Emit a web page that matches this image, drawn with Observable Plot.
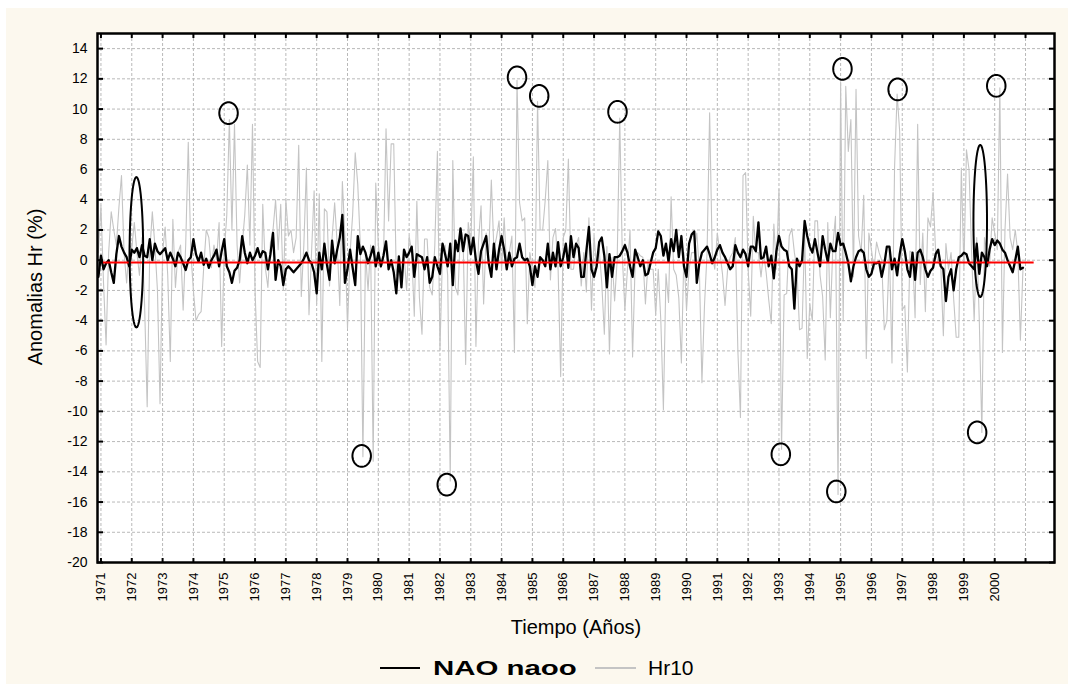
<!DOCTYPE html>
<html>
<head>
<meta charset="utf-8">
<script src="https://cdn.jsdelivr.net/npm/d3@7"></script>
<script src="https://cdn.jsdelivr.net/npm/@observablehq/plot@0.6"></script>
<style>
  html, body { margin: 0; padding: 0; background: #ffffff; width: 1068px; height: 684px; overflow: hidden; }
  #page { position: absolute; left: 6px; top: 8px; right: 0; bottom: 0; background: #fcf8ee; }
  #chart { position: absolute; left: 0; top: 0; width: 1068px; height: 650px; }
  #legend { position: absolute; left: 0; top: 650px; width: 1068px; height: 34px;
            font-family: "Liberation Sans", Arial, sans-serif; color: #000; }
  #legend .sw { position: absolute; height: 2px; top: 17px; }
  #legend .lab { position: absolute; top: 7px; font-size: 21px; line-height: 21px; white-space: nowrap; }
</style>
</head>
<body>
<div id="page"></div>
<div id="chart"></div>
<div id="legend"></div>
<script>
// ---- data ----
const seriesNames = ["NAO naoo", "Hr10"];
const xLabel = "Tiempo (Años)";
const yLabel = "Anomalias Hr (%)";
const firstMonth = 1970 + 11 / 12;   // first monthly value (Dec 1970)
const yearTicks = d3.range(1971, 2002);         // 1971 … 2001
const yTicks = d3.range(-20, 15, 2);            // -20 … 14
const meanLevel = -0.15;                         // red reference line
const meanFrom = 1971.08, meanTo = 2001.28;

// NAO naoo (black), monthly, one row per 12 months
const nao = [
  -1.1, 0.3, -0.6, -0.2, 0.0, -0.8, -1.5, 0.4, 1.6, 0.9, 0.5, 0.2,
  -0.4, 0.7, 0.5, 0.8, 0.2, 1.0, 0.3, 0.2, 1.4, 0.0, 1.1, 0.6,
  0.4, 0.6, 0.8, 0.0, 0.5, 0.1, -0.4, 0.5, 0.2, -0.2, -0.65, 0.0,
  0.2, 1.4, 0.4, -0.1, 0.5, -0.3, 0.1, -0.5, 0.0, 0.3, 0.7, -0.4,
  0.6, 1.4, -0.4, -0.8, -1.5, -0.7, -0.5, 0.0, 1.6, 0.5, -0.2, 0.5,
  0.0, 0.3, 0.8, 0.2, 0.6, 0.5, -0.6, 0.4, 1.8, -1.3, 0.0, -0.4,
  -1.65, -0.6, -0.4, -0.6, -0.8, -0.6, -0.4, -0.2, 0.1, 0.5, 0.0, -0.2,
  -0.8, -2.2, 0.5, -0.6, 1.1, -0.3, -1.3, 1.3, -0.2, 0.7, 1.5, 3.0,
  -1.5, -0.6, 0.7, -0.5, -1.65, 1.6, 0.4, 0.9, 0.5, -0.2, 0.3, 0.9,
  -0.4, 0.5, -0.4, 0.3, 1.25, -0.6, 0.0, -0.8, -2.2, 0.25, -1.8, 0.7,
  0.2, 0.5, 0.9, -1.1, 0.4, 0.3, 0.2, -0.6, 0.2, -1.5, -1.1, 0.2,
  -0.4, -0.9, 1.1, 0.4, -0.4, 1.1, -1.65, 1.3, 0.6, 2.1, 0.6, 1.7,
  1.6, 0.4, 1.5, 0.0, -0.9, 0.6, 1.1, 1.6, -0.2, -1.1, 1.1, -0.6,
  0.7, 1.6, 0.7, -0.6, 0.5, -0.4, 0.1, 0.2, 1.1, 0.2, 0.0, 0.1,
  -0.4, -1.65, -0.4, -1.1, 0.2, 0.0, -0.4, 1.1, -0.6, 0.5, -0.4, 1.2,
  -0.4, 0.2, 1.1, -0.5, 1.6, 0.2, 1.1, 0.8, -1.1, -1.1, 0.6, 2.2,
  -0.6, -1.1, -0.4, 1.2, 1.5, 0.3, -1.8, 0.4, -1.1, 0.2, 0.2, 0.3,
  0.6, 1.0, 0.5, -0.4, -1.1, 0.7, 0.2, -0.4, 0.0, -1.0, -0.9, -0.2,
  0.5, 0.8, 1.9, 1.6, 0.3, 1.1, -0.1, 1.4, 0.6, 2.0, 0.2, 1.6,
  -0.4, -1.1, 1.1, 1.7, 1.9, -1.5, -0.2, 0.5, 0.7, 0.9, 0.4, -0.2,
  0.2, 0.7, 1.0, 0.5, 0.2, -0.2, -0.6, -0.4, 1.0, 0.5, 0.2, 0.7,
  0.4, -0.4, 0.9, 0.9, 0.6, 2.5, 0.1, 0.2, 0.9, -0.4, 0.3, -1.2,
  0.6, 1.6, 0.9, 0.7, 0.6, -0.4, -0.6, -3.2, 0.1, -0.4, 0.0, 2.6,
  1.6, 0.9, 0.5, 1.4, 0.5, -0.4, 1.6, 0.7, -0.1, 1.1, 0.6, 0.6,
  1.8, 1.0, 1.1, 0.5, -0.2, -1.4, -0.4, 0.2, 0.6, 0.7, 0.5, -0.6,
  -1.1, -0.9, -0.2, -0.2, -0.1, -1.1, -0.3, 0.9, 0.9, -0.6, 0.1, -1.0,
  0.4, 1.4, 0.6, -0.6, -1.1, 0.5, -1.3, 0.5, 0.7, 0.2, -0.6, -1.1,
  -0.7, -0.5, 0.4, 0.7, -0.4, -0.6, -2.7, -1.1, -0.6, -2.0, -0.6, 0.2,
  0.3, 0.5, 0.4, -0.2, -0.4, -0.6, 1.1, -0.9, 0.5, 0.2, -0.4, 0.7,
  1.4, 1.0, 1.3, 1.1, 0.7, 0.5, 0.0, -0.4, -0.8, 0.0, 0.9, -0.6,
  -0.5
];

// Hr10 (light grey), monthly
const hr10 = [
  0.5, 3.6, -1.5, -5.6, 0.5, 3.2, 2.0, 1.0, 3.5, 5.6, 0.5, -1.5,
  1.0, 0.8, 2.5, 0.5, -1.0, 1.5, -3.0, -9.7, 0.5, 3.2, 1.0, -2.0,
  -9.5, 0.5, 2.2, -1.0, -6.7, 2.7, -1.8, 0.5, 1.0, -3.3, 1.0, 7.8,
  0.5, -2.0, -4.0, -3.6, -3.4, -0.5, 2.0, 1.5, -0.5, 1.0, 0.0, 2.5,
  -5.7, 0.5, 3.0, 9.3, 2.0, 9.0, 1.0, -1.5, 1.0, 3.0, 6.3, 1.0,
  9.0, -2.0, -6.7, -7.1, 3.7, -0.5, -1.8, 1.2, 2.0, 4.0, 0.7, 3.7,
  -2.0, 4.0, 1.6, 2.0, 0.5, 1.5, 7.6, -2.4, 1.0, 6.1, -3.6, 0.5,
  4.6, -2.9, 4.4, -6.7, 3.4, 3.2, -1.7, 1.5, 3.8, 1.0, -3.0, 5.2,
  1.5, -4.5, 0.5, 3.0, 7.1, 5.0, 1.0, -13.0, 0.5, -2.0, 1.0, -13.3,
  5.1, 1.0, -0.5, 0.0, 8.7, 2.6, 7.7, 7.7, -1.0, 0.0, -1.5, 0.5,
  -2.0, 1.6, 0.5, -3.7, 3.9, -2.5, -4.9, 1.4, 1.4, -1.8, -2.3, 1.0,
  7.2, -5.9, 0.5, 1.0, -1.0, -14.6, 6.6, -1.8, -2.3, 2.1, 1.5, -6.9,
  2.5, 1.0, 6.85, -5.7, 1.2, 3.6, -2.9, 1.8, 0.5, 5.3, 0.7, 1.5,
  2.6, -0.6, 2.8, -0.6, 0.5, 1.6, -6.1, 11.9, 3.8, 2.6, 2.8, -4.2,
  0.5, -0.6, -1.8, 10.5, 2.0, 2.0, 4.0, 6.6, -1.3, 1.5, 2.1, -0.6,
  -7.7, 1.5, 2.0, 6.7, -0.6, -0.6, 1.0, 1.5, -1.7, 0.5, -2.1, 2.8,
  -3.3, 1.6, -0.6, 0.7, -1.5, -4.9, 0.9, -6.2, 0.2, -2.7, 0.0, 9.4,
  0.3, -3.3, -0.6, 2.0, -6.4, -0.2, 0.5, 0.3, 0.2, -2.9, -0.2, -0.6,
  -0.6, -3.6, -0.6, -4.0, -9.9, -0.9, -2.8, 4.2, -0.6, -1.0, -2.5, -6.8,
  0.5, -3.3, -0.6, 0.5, 0.5, 1.8, -0.6, -8.1, -3.0, 0.5, 9.75, 0.5,
  -0.6, 1.8, 0.5, -0.9, -3.0, -0.6, 0.2, 0.5, 1.5, -6.0, -10.4, 5.6,
  5.8, -0.6, -3.7, 2.9, 0.5, 0.5, -1.1, 0.5, -0.8, -2.6, -4.2, 2.4,
  -0.6, 4.7, -12.5, -2.3, -2.2, 1.6, 2.1, 0.5, -0.6, -4.6, -4.5, 1.8,
  -6.5, -2.9, -4.0, 2.6, 2.6, -1.0, -2.4, -6.6, 2.5, -3.8, 1.0, 2.9,
  -15.5, 11.8, -4.0, 11.5, 7.2, 9.3, -1.1, 11.3, 1.6, 0.5, 4.3, -6.5,
  1.8, 0.7, -0.6, 1.2, 0.5, 0.0, -4.6, -4.0, 0.7, -6.8, 6.1, 11.0,
  8.5, -3.3, -3.0, -7.4, 0.6, 0.5, -3.8, 9.0, -1.6, 1.8, -3.4, 2.8,
  2.2, 4.5, 0.5, -0.2, -0.4, -5.0, 1.1, -0.6, 0.5, -2.5, -5.1, -5.1,
  6.1, -0.6, 7.3, 6.0, 0.5, -4.0, 1.5, -4.0, -11.4, 1.5, 0.5, -0.4,
  2.8, 1.8, 0.7, 11.4, -6.1, 2.0, 5.7, 1.5, 0.7, 2.0, 0.5, -5.3,
  -0.6
];

// annotation circles around extreme Hr10 values (year, value)
const circleYears  = [1975.14, 1979.46, 1982.22, 1984.50, 1985.22, 1987.76, 1993.06, 1994.86, 1995.06, 1996.85, 1999.43, 2000.05];
const circleValues = [9.73, -12.95, -14.85, 12.1, 10.87, 9.82, -12.84, -15.3, 12.66, 11.3, -11.39, 11.54];
// tall ellipses spanning the NAO range (year, low, high)
const spanYears = [1972.15, 1999.53];
const spanLow   = [-4.45, -2.44];
const spanHigh  = [5.5, 7.63];

// ---- build tables ----
const naoRows = nao.map((v, i) => ({t: firstMonth + i / 12, v}));
const hrRows = hr10.map((v, i) => ({t: firstMonth + i / 12, v}));

const circleRX = 0.30, circleRY = 0.72, spanRX = 0.22;  // outline radii (years / %)
const ellipsePts = [];
const N = 64;
circleYears.forEach((cx, k) => {
  for (let j = 0; j <= N; j++) {
    const a = 2 * Math.PI * j / N;
    ellipsePts.push({k: "c" + k, x: cx + circleRX * Math.cos(a), y: circleValues[k] + circleRY * Math.sin(a)});
  }
});
spanYears.forEach((cx, k) => {
  const cy = (spanLow[k] + spanHigh[k]) / 2, ry = (spanHigh[k] - spanLow[k]) / 2;
  for (let j = 0; j <= N; j++) {
    const a = 2 * Math.PI * j / N;
    ellipsePts.push({k: "s" + k, x: cx + spanRX * Math.cos(a), y: cy + ry * Math.sin(a)});
  }
});

const gridStyle = {stroke: "#b9b9b9", strokeOpacity: 1, strokeDasharray: "3,2", strokeWidth: 1};
const fmtY = d => String(d);

const chart = Plot.plot({
  width: 1068,
  height: 650,
  marginLeft: 97,
  marginRight: 14,
  marginTop: 33,
  marginBottom: 88,
  x: {domain: [1970.888, 2001.94], axis: null, label: null},
  y: {domain: [-20, 15], axis: null, label: null},
  style: {fontFamily: "'Liberation Sans', Arial, sans-serif", fontSize: "14px", background: "transparent", color: "#000", overflow: "visible"},
  marks: [
    Plot.frame({fill: "white", stroke: null}),
    Plot.gridX(yearTicks, gridStyle),
    Plot.gridY(yTicks, gridStyle),
    Plot.line(hrRows, {x: "t", y: "v", stroke: "#c4c4c4", strokeWidth: 1.1}),
    Plot.line(naoRows, {x: "t", y: "v", stroke: "#000", strokeWidth: 2.3}),
    Plot.ruleY([meanLevel], {x1: meanFrom, x2: meanTo, stroke: "#ff0000", strokeWidth: 2}),
    Plot.line(ellipsePts, {x: "x", y: "y", z: "k", stroke: "#000", strokeWidth: 2, curve: "linear"}),
    // inner tick marks on all four sides
    Plot.axisX(yearTicks, {anchor: "bottom", tickSize: 4, dy: -4, tickFormat: () => "", label: null, strokeWidth: 2}),
    Plot.axisX(yearTicks, {anchor: "top", tickSize: 4, dy: 4, tickFormat: () => "", label: null, strokeWidth: 2}),
    Plot.axisY(yTicks, {anchor: "left", tickSize: 6, dx: 6, tickFormat: () => "", label: null, strokeWidth: 2}),
    Plot.axisY(yTicks, {anchor: "right", tickSize: 6, dx: -6, tickFormat: () => "", label: null, strokeWidth: 2}),
    // tick labels
    Plot.axisX(yearTicks, {anchor: "bottom", tickSize: 0, tickPadding: 10, tickRotate: -90, fontSize: 13,
      tickFormat: d => d <= 2000 ? String(d) : "", label: null}),
    Plot.axisY(yTicks, {anchor: "left", tickSize: 0, tickPadding: 10, fontSize: 14, tickFormat: fmtY, label: null, ariaLabel: "ytl"}),
    Plot.frame({stroke: "#000", strokeWidth: 2.5}),
    Plot.text([xLabel], {text: d => d, frameAnchor: "bottom", dy: 71, fontSize: 20, ariaLabel: "xlabel"}),
    Plot.text([yLabel], {text: d => d, frameAnchor: "left", textAnchor: "middle", dx: -62, dy: -11, rotate: -90, fontSize: 20, ariaLabel: "ylabel"})
  ]
});
d3.select(chart).selectAll("g[aria-label='xlabel'] text").style("letter-spacing", "2px");
d3.select(chart).selectAll("g[aria-label='ylabel'] text").style("letter-spacing", "1px");
d3.select(chart).selectAll("g[aria-label='ytl'] text").style("letter-spacing", "1px");
document.getElementById("chart").appendChild(chart);

// ---- legend ----
const legend = document.getElementById("legend");
legend.innerHTML = `
  <div class="sw" style="left:380px;width:40px;background:#000;"></div>
  <div class="lab" style="left:433px;font-weight:bold;transform:scaleX(1.4);transform-origin:left center;">${seriesNames[0]}</div>
  <div class="sw" style="left:595px;width:41px;background:#c4c4c4;"></div>
  <div class="lab" style="left:648px;">${seriesNames[1]}</div>`;
</script>
</body>
</html>
